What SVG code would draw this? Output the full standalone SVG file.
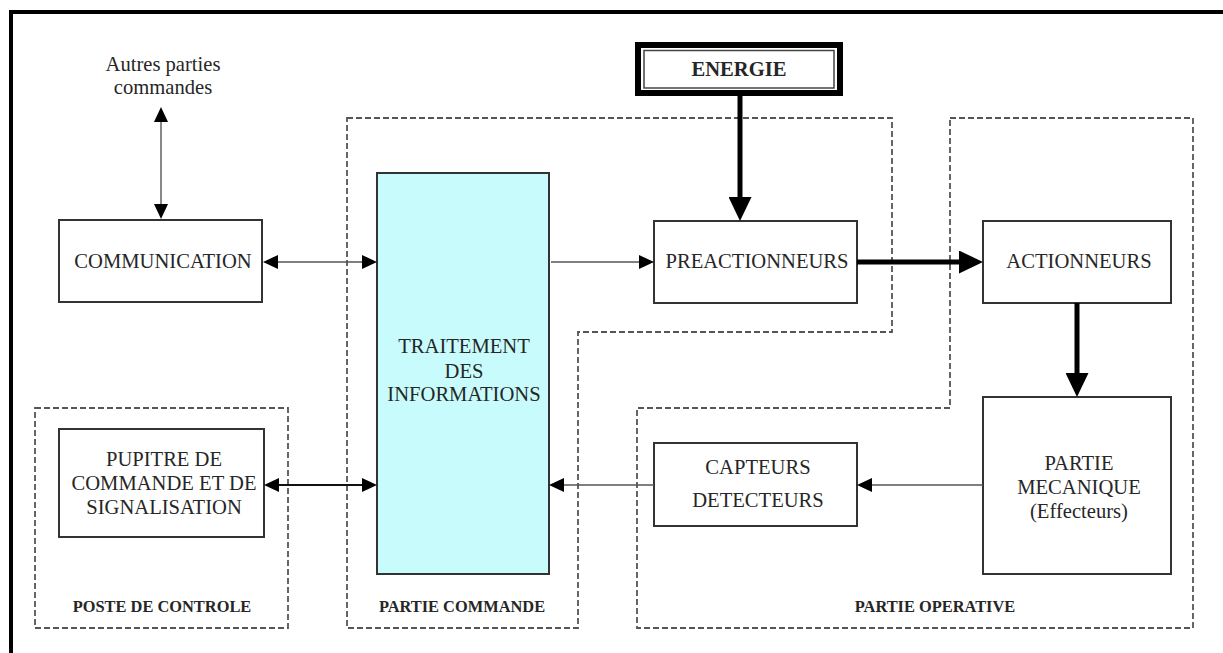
<svg xmlns="http://www.w3.org/2000/svg" width="1223" height="653" viewBox="0 0 1223 653">
  <defs>
    <style>
      .t { font-family: "Liberation Serif", "Times New Roman", serif; font-size: 20.6px; fill: #262626; text-anchor: middle; }
      .lbl { font-family: "Liberation Serif", "Times New Roman", serif; font-size: 16.4px; font-weight: bold; fill: #262626; text-anchor: middle; }
      .box { fill: #ffffff; stroke: #333333; stroke-width: 2; }
      .zone { fill: none; stroke: #555555; stroke-width: 1.8; stroke-dasharray: 6 3; }
      .thin { fill: none; stroke: #555555; stroke-width: 1.4; }
      .mid { fill: none; stroke: #111111; stroke-width: 2.2; }
      .thick { fill: none; stroke: #000000; stroke-width: 5; }
    </style>
    <marker id="ah" markerUnits="userSpaceOnUse" markerWidth="16" markerHeight="14" refX="0" refY="7" orient="auto-start-reverse">
      <path d="M0,0 L15,7 L0,14 Z" fill="#000"/>
    </marker>
    <marker id="ahb" markerUnits="userSpaceOnUse" markerWidth="25" markerHeight="23" refX="0" refY="11.5" orient="auto-start-reverse">
      <path d="M0,0 L24,11.5 L0,23 Z" fill="#000"/>
    </marker>
  </defs>

  <rect width="1223" height="653" fill="#ffffff"/>
  <!-- outer frame (top and left visible) -->
  <path d="M11,660 V12 H1230" fill="none" stroke="#000" stroke-width="4"/>

  <!-- zones -->
  <g id="zone-commande">
    <path class="zone" d="M347,118 H892 V332 H578 V628 H347 Z"/>
    <text class="lbl" x="462" y="612">PARTIE COMMANDE</text>
  </g>
  <g id="zone-operative">
    <path class="zone" d="M950,118 H1193 V628 H637 V408 H950 Z"/>
    <text class="lbl" x="935" y="612">PARTIE OPERATIVE</text>
  </g>
  <g id="zone-poste">
    <rect class="zone" x="35" y="408" width="253" height="220"/>
    <text class="lbl" x="162" y="612">POSTE DE CONTROLE</text>
  </g>

  <g id="autres">
    <text class="t" x="163" y="71">Autres parties</text>
    <text class="t" x="163" y="94">commandes</text>
  </g>

  <g id="energie">
    <rect x="638" y="45" width="202" height="48" fill="#fff" stroke="#000" stroke-width="6"/>
    <rect x="644" y="50.5" width="190" height="37.5" fill="none" stroke="#444" stroke-width="1.5"/>
    <text class="t" x="739" y="76" style="font-weight:bold">ENERGIE</text>
  </g>

  <g id="communication">
    <rect class="box" x="59" y="220" width="203" height="82"/>
    <text class="t" x="163" y="268">COMMUNICATION</text>
  </g>

  <g id="traitement">
    <rect x="377" y="173" width="172" height="401" fill="#c8fcfc" stroke="#333" stroke-width="2"/>
    <text class="t" x="464" y="353">TRAITEMENT</text>
    <text class="t" x="464" y="378">DES</text>
    <text class="t" x="464" y="401">INFORMATIONS</text>
  </g>

  <g id="preactionneurs">
    <rect class="box" x="654" y="221" width="203" height="82"/>
    <text class="t" x="757" y="268">PREACTIONNEURS</text>
  </g>

  <g id="actionneurs">
    <rect class="box" x="983" y="221" width="188" height="82"/>
    <text class="t" x="1079" y="268">ACTIONNEURS</text>
  </g>

  <g id="mecanique">
    <rect class="box" x="983" y="397" width="188" height="177"/>
    <text class="t" x="1079" y="470">PARTIE</text>
    <text class="t" x="1079" y="494">MECANIQUE</text>
    <text class="t" x="1079" y="518">(Effecteurs)</text>
  </g>

  <g id="capteurs">
    <rect class="box" x="654" y="443" width="203" height="83"/>
    <text class="t" x="758" y="474">CAPTEURS</text>
    <text class="t" x="758" y="507">DETECTEURS</text>
  </g>

  <g id="pupitre">
    <rect class="box" x="59" y="429" width="205" height="108"/>
    <text class="t" x="164" y="466">PUPITRE DE</text>
    <text class="t" x="164" y="490">COMMANDE ET DE</text>
    <text class="t" x="164" y="514">SIGNALISATION</text>
  </g>

  <g id="connectors">
    <line class="thin" x1="161" y1="122" x2="161" y2="204" marker-start="url(#ah)" marker-end="url(#ah)"/>
    <line class="thin" x1="278" y1="262" x2="362" y2="262" marker-start="url(#ah)" marker-end="url(#ah)"/>
    <line class="thin" x1="551" y1="262" x2="639" y2="262" marker-end="url(#ah)"/>
    <line class="thick" x1="740" y1="96" x2="740" y2="197" marker-end="url(#ahb)"/>
    <line class="thick" x1="857" y1="262" x2="959" y2="262" marker-end="url(#ahb)"/>
    <line class="thick" x1="1077" y1="303" x2="1077" y2="373" marker-end="url(#ahb)"/>
    <line class="thin" x1="983" y1="485" x2="872" y2="485" marker-end="url(#ah)"/>
    <line class="thin" x1="654" y1="485" x2="564" y2="485" marker-end="url(#ah)"/>
    <line class="mid" x1="279" y1="485" x2="362" y2="485" marker-start="url(#ah)" marker-end="url(#ah)"/>
  </g>
</svg>
